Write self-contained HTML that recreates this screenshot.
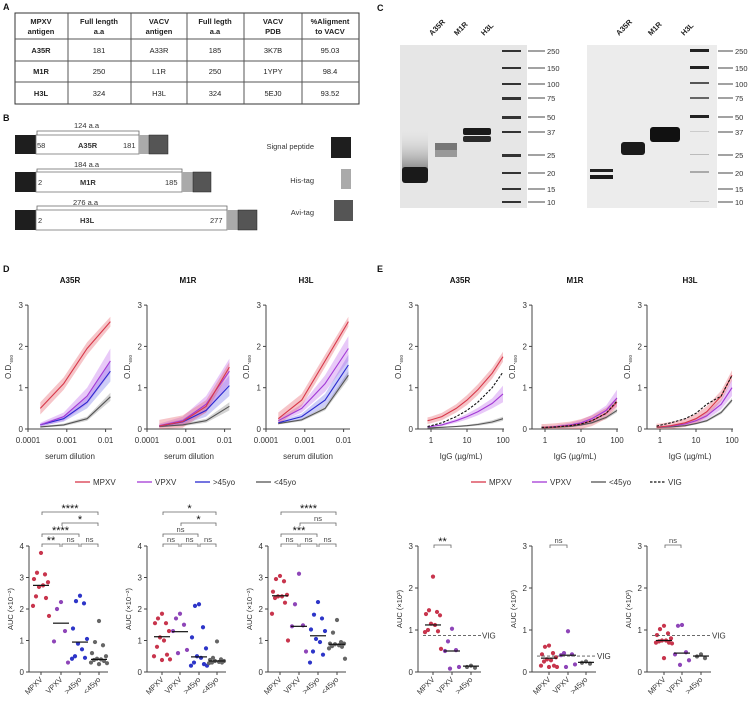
<!DOCTYPE html>
<html><head><meta charset="utf-8"><style>
body{margin:0;background:#fff;}
svg{display:block;font-family:"Liberation Sans",sans-serif;}
</style></head><body>
<svg id="fig" width="750" height="706" viewBox="0 0 750 706" xmlns="http://www.w3.org/2000/svg">
<rect width="750" height="706" fill="#fff"/>
<g font-weight="bold" font-size="9" fill="#111">
<text x="3" y="10">A</text>
<text x="3" y="121">B</text>
<text x="377" y="11">C</text>
<text x="3" y="272">D</text>
<text x="377" y="272">E</text>
</g>
<!-- Panel A table -->
<g font-size="7.5" fill="#222" text-anchor="middle">
<rect x="15" y="13" width="344" height="91" fill="#fff" stroke="#333" stroke-width="1"/>
<g stroke="#555" stroke-width="1">
<line x1="15" y1="39" x2="359" y2="39"/><line x1="15" y1="61" x2="359" y2="61"/><line x1="15" y1="82" x2="359" y2="82"/>
<line x1="68" y1="13" x2="68" y2="104"/><line x1="131" y1="13" x2="131" y2="104"/><line x1="187" y1="13" x2="187" y2="104"/><line x1="244" y1="13" x2="244" y2="104"/><line x1="302" y1="13" x2="302" y2="104"/>
</g>
<g font-weight="bold">
<text x="41" y="24">MPXV</text><text x="41" y="34">antigen</text>
<text x="99" y="24">Full length</text><text x="99" y="34">a.a</text>
<text x="159" y="24">VACV</text><text x="159" y="34">antigen</text>
<text x="215" y="24">Full legth</text><text x="215" y="34">a.a</text>
<text x="273" y="24">VACV</text><text x="273" y="34">PDB</text>
<text x="330" y="24">%Aligment</text><text x="330" y="34">to VACV</text>
<text x="41" y="53">A35R</text><text x="41" y="74">M1R</text><text x="41" y="96">H3L</text>
</g>
<text x="99" y="53">181</text><text x="159" y="53">A33R</text><text x="215" y="53">185</text><text x="273" y="53">3K7B</text><text x="330" y="53">95.03</text>
<text x="99" y="74">250</text><text x="159" y="74">L1R</text><text x="215" y="74">250</text><text x="273" y="74">1YPY</text><text x="330" y="74">98.4</text>
<text x="99" y="96">324</text><text x="159" y="96">H3L</text><text x="215" y="96">324</text><text x="273" y="96">5EJ0</text><text x="330" y="96">93.52</text>
</g>
<!-- Panel B constructs -->
<g font-size="7.5" fill="#333">
<g>
<rect x="15" y="135" width="21" height="19" fill="#1e1e1e"/><rect x="36" y="135" width="103" height="19" fill="#fff" stroke="#777" stroke-width="0.8"/>
<rect x="139" y="135" width="10" height="19" fill="#aaa"/><rect x="149" y="135" width="19" height="19" fill="#555" stroke="#222" stroke-width="0.5"/>
<path d="M37 135 V131 H139 V135" fill="none" stroke="#666" stroke-width="0.8"/>
<text x="74" y="128">124 a.a</text><text x="37" y="148">58</text><text x="78" y="148" font-weight="bold">A35R</text><text x="123" y="148">181</text>
</g>
<g>
<rect x="15" y="172" width="21" height="20" fill="#1e1e1e"/><rect x="36" y="172" width="146" height="20" fill="#fff" stroke="#777" stroke-width="0.8"/>
<rect x="182" y="172" width="11" height="20" fill="#aaa"/><rect x="193" y="172" width="18" height="20" fill="#555" stroke="#222" stroke-width="0.5"/>
<path d="M37 172 V169 H182 V172" fill="none" stroke="#666" stroke-width="0.8"/>
<text x="74" y="167">184 a.a</text><text x="38" y="185">2</text><text x="80" y="185" font-weight="bold">M1R</text><text x="165" y="185">185</text>
</g>
<g>
<rect x="15" y="210" width="21" height="20" fill="#1e1e1e"/><rect x="36" y="210" width="191" height="20" fill="#fff" stroke="#777" stroke-width="0.8"/>
<rect x="227" y="210" width="11" height="20" fill="#aaa"/><rect x="238" y="210" width="19" height="20" fill="#555" stroke="#222" stroke-width="0.5"/>
<path d="M37 210 V206 H227 V210" fill="none" stroke="#666" stroke-width="0.8"/>
<text x="73" y="205">276 a.a</text><text x="38" y="223">2</text><text x="80" y="223" font-weight="bold">H3L</text><text x="210" y="223">277</text>
</g>
<g text-anchor="end">
<text x="314" y="149">Signal peptide</text><rect x="331" y="137" width="20" height="21" fill="#1e1e1e"/>
<text x="314" y="183">His-tag</text><rect x="341" y="169" width="10" height="20" fill="#aaa"/>
<text x="314" y="215">Avi-tag</text><rect x="334" y="200" width="19" height="21" fill="#555"/>
</g>
</g>
<!-- Panel C gels -->
<defs>
<linearGradient id="smear" x1="0" y1="0" x2="0" y2="1"><stop offset="0" stop-color="#ddd" stop-opacity="0"/><stop offset="1" stop-color="#888"/></linearGradient>
</defs>
<g>
<rect x="400" y="45" width="127" height="163" fill="#e6e6e6"/>
<rect x="402" y="130" width="26" height="40" fill="url(#smear)"/>
<rect x="402" y="167" width="26" height="16" rx="3" fill="#1a1a1a"/>
<rect x="435" y="143" width="22" height="7" fill="#777"/><rect x="435" y="150" width="22" height="7" fill="#999"/>
<rect x="463" y="128" width="28" height="7" rx="2" fill="#1a1a1a"/><rect x="463" y="136" width="28" height="6" rx="2" fill="#2a2a2a"/>
<g fill="#333"><rect x="502" y="50" width="19" height="2"/><rect x="502" y="67" width="19" height="2"/><rect x="502" y="83" width="19" height="2"/><rect x="502" y="97" width="19" height="3"/><rect x="502" y="116" width="19" height="3"/><rect x="502" y="131" width="19" height="2"/><rect x="502" y="154" width="19" height="3"/><rect x="502" y="172" width="19" height="2"/><rect x="502" y="188" width="19" height="2"/><rect x="502" y="201" width="19" height="2"/></g>
</g>
<g>
<rect x="587" y="45" width="130" height="163" fill="#ececec"/>
<rect x="590" y="169" width="23" height="3" fill="#222"/><rect x="590" y="175" width="23" height="4" fill="#1a1a1a"/>
<rect x="621" y="142" width="24" height="13" rx="3" fill="#1a1a1a"/>
<rect x="650" y="127" width="30" height="15" rx="3" fill="#111"/>
<g fill="#222"><rect x="690" y="49" width="19" height="3"/><rect x="690" y="66" width="19" height="3"/><rect x="690" y="82" width="19" height="2" fill="#555"/><rect x="690" y="97" width="19" height="2" fill="#666"/><rect x="690" y="115" width="19" height="3"/><rect x="690" y="131" width="19" height="1" fill="#ccc"/><rect x="690" y="154" width="19" height="1" fill="#bbb"/><rect x="690" y="171" width="19" height="2" fill="#aaa"/><rect x="690" y="201" width="19" height="1" fill="#ccc"/></g>
</g>
<g font-size="7.5" font-weight="bold" fill="#222">
<text transform="translate(432,36) rotate(-45)">A35R</text><text transform="translate(457,36) rotate(-45)">M1R</text><text transform="translate(484,36) rotate(-45)">H3L</text>
<text transform="translate(619,36) rotate(-45)">A35R</text><text transform="translate(651,36) rotate(-45)">M1R</text><text transform="translate(684,36) rotate(-45)">H3L</text>
</g>
<g id="markers" font-size="7.5" fill="#333"></g>
<g id="charts"></g>
</svg>
<script>
// ---- Panel C marker data
const mwLabels = ["250","150","100","75","50","37","25","20","15","10"];
const mwY = [51,68,84,98,117,132,155,173,189,202];

// ---- Panel D line-chart data
const dDilution = [0.000208, 0.000833, 0.00333, 0.0133];
const dGroups = ["MPXV","VPXV",">45yo","<45yo"];
const dA35R_MPXV = [0.5, 1.1, 1.95, 2.6];
const dA35R_VPXV = [0.1, 0.3, 0.8, 1.65];
const dA35R_Old = [0.1, 0.25, 0.65, 1.4];
const dA35R_Young = [0.05, 0.1, 0.25, 0.78];
const dM1R_MPXV = [0.07, 0.18, 0.55, 1.5];
const dM1R_VPXV = [0.08, 0.2, 0.6, 1.4];
const dM1R_Old = [0.07, 0.17, 0.45, 1.05];
const dM1R_Young = [0.06, 0.1, 0.2, 0.55];
const dH3L_MPXV = [0.25, 0.7, 1.65, 2.6];
const dH3L_VPXV = [0.2, 0.5, 1.1, 1.95];
const dH3L_Old = [0.15, 0.3, 0.7, 1.55];
const dH3L_Young = [0.13, 0.22, 0.5, 1.3];
const dSem_MPXV = [0.15, 0.15, 0.15, 0.12];
const dSem_VPXV = [0.05, 0.1, 0.2, 0.3];
const dSem_Old = [0.03, 0.07, 0.15, 0.25];
const dSem_Young = [0.02, 0.03, 0.05, 0.1];

// ---- Panel E line-chart data
const eIgG = [0.8, 1, 2, 5, 10, 20, 50, 100];
const eA35R_MPXV = [0.2, 0.22, 0.3, 0.5, 0.7, 0.95, 1.35, 1.75];
const eA35R_VPXV = [0.05, 0.06, 0.1, 0.2, 0.3, 0.42, 0.62, 0.85];
const eA35R_Young = [0.03, 0.03, 0.04, 0.06, 0.08, 0.11, 0.17, 0.25];
const eA35R_VIG = [0.06, 0.08, 0.15, 0.3, 0.45, 0.65, 1.0, 1.38];
const eM1R_MPXV = [0.04, 0.04, 0.05, 0.08, 0.12, 0.2, 0.38, 0.65];
const eM1R_VPXV = [0.04, 0.04, 0.06, 0.1, 0.15, 0.25, 0.45, 0.75];
const eM1R_Young = [0.03, 0.03, 0.04, 0.06, 0.1, 0.15, 0.28, 0.45];
const eM1R_VIG = [0.04, 0.04, 0.05, 0.08, 0.12, 0.2, 0.38, 0.68];
const eH3L_MPXV = [0.05, 0.05, 0.08, 0.15, 0.25, 0.42, 0.8, 1.3];
const eH3L_VPXV = [0.05, 0.05, 0.07, 0.12, 0.2, 0.32, 0.6, 1.0];
const eH3L_Young = [0.04, 0.04, 0.05, 0.08, 0.13, 0.2, 0.4, 0.7];
const eH3L_VIG = [0.07, 0.09, 0.15, 0.25, 0.38, 0.6, 0.8, 1.3];
const eSem_MPXV = [0.08, 0.08, 0.09, 0.1, 0.12, 0.13, 0.13, 0.12];
const eSem_VPXV = [0.02, 0.02, 0.03, 0.05, 0.07, 0.09, 0.12, 0.2];
const eSem_Young = [0.01, 0.01, 0.01, 0.02, 0.02, 0.03, 0.04, 0.05];

// ---- Panel D AUC dot data (x10^2)
const aucA35R_MPXV = [3.78,3.15,3.1,2.95,2.85,2.7,2.75,2.4,2.35,2.1,1.78];
const aucA35R_VPXV = [2.22,2.0,1.3,0.97,0.3];
const aucA35R_Old = [2.42,2.25,2.18,1.38,1.05,0.9,0.72,0.5,0.45,0.42];
const aucA35R_Young = [1.62,0.95,0.85,0.6,0.5,0.42,0.4,0.38,0.35,0.3,0.28,0.25];
const medA35R = [2.75, 1.55, 0.95, 0.4];
const aucM1R_MPXV = [1.85,1.7,1.55,1.55,1.3,1.1,1.0,0.8,0.55,0.5,0.4,0.38];
const aucM1R_VPXV = [1.85,1.7,1.5,1.3,0.7,0.6];
const aucM1R_Old = [2.15,2.1,1.42,1.1,0.75,0.5,0.45,0.3,0.25,0.2,0.2];
const aucM1R_Young = [0.97,0.45,0.4,0.38,0.35,0.35,0.32,0.3,0.3,0.28];
const medM1R = [1.12, 1.28, 0.48, 0.35];
const aucH3L_MPXV = [3.05,2.95,2.88,2.55,2.45,2.4,2.4,2.35,2.2,1.85,1.0];
const aucH3L_VPXV = [3.12,2.15,1.48,1.45,0.65];
const aucH3L_Old = [2.22,1.82,1.7,1.35,1.3,1.05,0.95,0.65,0.55,0.3];
const aucH3L_Young = [1.65,1.25,0.95,0.9,0.9,0.88,0.85,0.82,0.8,0.75,0.42];
const medH3L = [2.42, 1.45, 1.15, 0.88];
const sigA35R = ["**","ns","ns","****","*","****"];
const sigM1R = ["ns","ns","ns","ns","*","*"];
const sigH3L = ["ns","ns","ns","***","ns","****"];

// ---- Panel E AUC dot data (x10^2)
const eGroups = ["MPXV","VPXV",">45yo"];
const eaA35R_MPXV = [2.27,1.47,1.43,1.38,1.35,1.15,1.12,1.0,0.97,0.95,0.55];
const eaA35R_VPXV = [1.03,0.73,0.52,0.5,0.12,0.08];
const eaA35R_Old = [0.15,0.12,0.1];
const emA35R = [1.12, 0.5, 0.14];
const eaM1R_MPXV = [0.63,0.6,0.45,0.42,0.35,0.3,0.28,0.25,0.15,0.15,0.12,0.12];
const eaM1R_VPXV = [0.97,0.45,0.42,0.4,0.18,0.12];
const eaM1R_Old = [0.25,0.22,0.2];
const emM1R = [0.33, 0.4, 0.23];
const eaH3L_MPXV = [1.1,1.02,0.92,0.88,0.8,0.75,0.75,0.73,0.7,0.7,0.68,0.33];
const eaH3L_VPXV = [1.12,1.1,0.47,0.42,0.28,0.17];
const eaH3L_Old = [0.42,0.37,0.33];
const emH3L = [0.75, 0.45, 0.38];
const vigAUC = [0.87, 0.38, 0.87];
const eSig = ["**","ns","ns"];

const NS = "http://www.w3.org/2000/svg";
const root = document.getElementById('charts');
function mk(parent, tag, attrs, name) {
  const el = document.createElementNS(NS, tag);
  for (const k in attrs) el.setAttribute(k, attrs[k]);
  
  
  parent.appendChild(el);
  return el;
}
function txt(parent, x, y, s, size, name, extra) {
  const t = mk(parent, 'text', Object.assign({x: x, y: y, 'font-size': size, fill: '#333'}, extra || {}), name);
  t.textContent = s;
  return t;
}

// markers
const mg = document.getElementById('markers');
mwY.forEach((y, i) => {
  mk(mg, 'line', {x1: 528, y1: y, x2: 545, y2: y, stroke: '#444', 'stroke-width': 1}, 'marker-tick');
  txt(mg, 547, y + 3, mwLabels[i], 7.5, 'marker-label');
  mk(mg, 'line', {x1: 718, y1: y, x2: 733, y2: y, stroke: '#444', 'stroke-width': 1}, 'marker-tick');
  txt(mg, 735, y + 3, mwLabels[i], 7.5, 'marker-label');
});

const COL = {MPXV: '#d8384a', VPXV: '#a33ad6', Old: '#2a2ad0', Young: '#555', VIG: '#111'};
const BAND = {MPXV: 'rgba(230,90,100,0.35)', VPXV: 'rgba(190,100,235,0.35)', Old: 'rgba(90,90,230,0.3)', Young: 'rgba(130,130,130,0.35)'};
const DOT = {MPXV: '#c8354d', VPXV: '#8e45b8', Old: '#2d35c8', Young: '#666'};

function odLabel(g, x, y) {
  const t = mk(g, 'text', {transform: 'translate(' + x + ',' + y + ') rotate(-90)', 'font-size': 8, fill: '#333', 'text-anchor': 'middle'}, 'y-axis-title');
  t.textContent = 'O.D.';
  const s = mk(t, 'tspan', {'font-size': 4.5, dy: 2}, 'y-axis-subscript');
  s.textContent = '650';
}

function yAxisLine(g, ax, y0, unit, max, x1) {
  mk(g, 'line', {x1: ax, y1: y0, x2: ax, y2: y0 - unit * max, stroke: '#444', 'stroke-width': 1}, 'y-axis');
  for (let v = 0; v <= max; v++) {
    const y = y0 - unit * v;
    mk(g, 'line', {x1: ax - 3, y1: y, x2: ax, y2: y, stroke: '#444', 'stroke-width': 1}, 'y-tick');
    txt(g, ax - 5, y + 3, String(v), 8, 'y-tick-label', {'text-anchor': 'end'});
  }
  mk(g, 'line', {x1: ax, y1: y0, x2: x1, y2: y0, stroke: '#444', 'stroke-width': 1}, 'x-axis');
}

function lineChart(title, titleX, ax, xs, xVals, series, xTicks, xTickLabels, xLabel, x1) {
  const g = mk(root, 'g', {}, 'line-chart-' + title.toLowerCase());
  const y0 = 429, unit = 41.3;
  const Y = v => y0 - v * unit;
  if (titleX) txt(g, titleX, 283, title, 8, 'chart-title', {'font-weight': 'bold', 'text-anchor': 'middle', fill: '#111'});
  yAxisLine(g, ax, y0, unit, 3, x1);
  odLabel(g, ax - 17, 367);
  xTicks.forEach((v, i) => {
    const x = xs(v);
    mk(g, 'line', {x1: x, y1: y0, x2: x, y2: y0 + 3, stroke: '#444', 'stroke-width': 1}, 'x-tick');
    txt(g, x, y0 + 14, xTickLabels[i], 8, 'x-tick-label', {'text-anchor': 'middle'});
  });
  txt(g, (ax + x1) / 2, 459, xLabel, 8, 'x-axis-title', {'text-anchor': 'middle'});
  series.forEach(s => {
    if (s.sem) {
      let up = '', dn = '';
      xVals.forEach((xv, i) => { up += (i ? 'L' : 'M') + xs(xv).toFixed(1) + ' ' + Y(s.v[i] + s.sem[i]).toFixed(1); });
      for (let i = xVals.length - 1; i >= 0; i--) dn += 'L' + xs(xVals[i]).toFixed(1) + ' ' + Y(Math.max(0, s.v[i] - s.sem[i])).toFixed(1);
      mk(g, 'path', {d: up + dn + 'Z', fill: BAND[s.k], stroke: 'none'}, 'band-' + s.k.toLowerCase());
    }
  });
  series.forEach(s => {
    let d = '';
    xVals.forEach((xv, i) => { d += (i ? 'L' : 'M') + xs(xv).toFixed(1) + ' ' + Y(s.v[i]).toFixed(1); });
    const a = {d: d, fill: 'none', stroke: COL[s.k], 'stroke-width': 1.1};
    if (s.k === 'VIG') a['stroke-dasharray'] = '2.5,1.5';
    mk(g, 'path', a, 'line-' + s.k.toLowerCase());
  });
}

// Panel D line charts
const dTicks = [0.0001, 0.001, 0.01];
const dTickL = ['0.0001', '0.001', '0.01'];
[[28, 'A35R', 70, [dA35R_MPXV, dA35R_VPXV, dA35R_Old, dA35R_Young]],
 [147, 'M1R', 188, [dM1R_MPXV, dM1R_VPXV, dM1R_Old, dM1R_Young]],
 [266, 'H3L', 306, [dH3L_MPXV, dH3L_VPXV, dH3L_Old, dH3L_Young]]].forEach(c => {
  const ax = c[0];
  const xs = v => ax + (Math.log10(v) + 4) * 38.8;
  lineChart(c[1], c[2], ax, xs, dDilution, [
    {k: 'Young', v: c[3][3], sem: dSem_Young}, {k: 'Old', v: c[3][2], sem: dSem_Old},
    {k: 'VPXV', v: c[3][1], sem: dSem_VPXV}, {k: 'MPXV', v: c[3][0], sem: dSem_MPXV}
  ], dTicks, dTickL, 'serum dilution', ax + 84);
});

// Panel E line charts
const eTicks = [1, 10, 100];
const eTickL = ['1', '10', '100'];
[[418, 'A35R', 460, [eA35R_MPXV, eA35R_VPXV, eA35R_Young, eA35R_VIG]],
 [532, 'M1R', 575, [eM1R_MPXV, eM1R_VPXV, eM1R_Young, eM1R_VIG]],
 [647, 'H3L', 690, [eH3L_MPXV, eH3L_VPXV, eH3L_Young, eH3L_VIG]]].forEach(c => {
  const ax = c[0];
  const xs = v => ax + 13 + Math.log10(v) * 36;
  lineChart(c[1], c[2], ax, xs, eIgG, [
    {k: 'Young', v: c[3][2], sem: eSem_Young}, {k: 'VPXV', v: c[3][1], sem: eSem_VPXV},
    {k: 'MPXV', v: c[3][0], sem: eSem_MPXV}, {k: 'VIG', v: c[3][3]}
  ], eTicks, eTickL, 'IgG (µg/mL)', ax + 86);
});

// Legends
function legend(items, y) {
  const g = mk(root, 'g', {}, 'legend');
  items.forEach(it => {
    const a = {x1: it[0], y1: y, x2: it[0] + 15, y2: y, stroke: COL[it[2]], 'stroke-width': 1.3};
    if (it[2] === 'VIG') a['stroke-dasharray'] = '2.5,1.5';
    mk(g, 'line', a, 'legend-swatch');
    txt(g, it[0] + 18, y + 3, it[1], 8, 'legend-label');
  });
}
legend([[75, 'MPXV', 'MPXV'], [137, 'VPXV', 'VPXV'], [195, '>45yo', 'Old'], [256, '<45yo', 'Young']], 482);
legend([[471, 'MPXV', 'MPXV'], [532, 'VPXV', 'VPXV'], [591, '<45yo', 'Young'], [650, 'VIG', 'VIG']], 482);

// Dot plots
const jit = [0, -4, 4, -7, 7, -2, 2, -5, 5, -8, 8, 0];
function dotPlot(name, ax, y0, unit, max, cats, keys, groups, data, meds, x1, ytitle) {
  const g = mk(root, 'g', {}, 'dot-plot-' + name);
  const Y = v => y0 - v * unit;
  yAxisLine(g, ax, y0, unit, max, x1);
  const t = mk(g, 'text', {transform: 'translate(' + (ax - 16) + ',' + (y0 - unit * max / 2) + ') rotate(-90)', 'font-size': 7.5, fill: '#333', 'text-anchor': 'middle'}, 'y-axis-title');
  t.textContent = ytitle;
  cats.forEach((cx, ci) => {
    mk(g, 'line', {x1: cx, y1: y0, x2: cx, y2: y0 + 3, stroke: '#444', 'stroke-width': 1}, 'x-tick');
    txt(g, cx + 2, y0 + 8, groups[ci], 7.5, 'x-tick-label', {'text-anchor': 'end', transform: 'rotate(-45 ' + (cx + 2) + ' ' + (y0 + 8) + ')'});
    data[ci].forEach((v, i) => {
      mk(g, 'circle', {cx: cx + jit[i % jit.length], cy: Y(v), r: 2.1, fill: DOT[keys[ci]]}, 'dot-' + keys[ci].toLowerCase());
    });
    mk(g, 'line', {x1: cx - 8, y1: Y(meds[ci]), x2: cx + 8, y2: Y(meds[ci]), stroke: '#111', 'stroke-width': 1.2}, 'median-line');
  });
  return g;
}
function bracket(g, xa, xb, y, label) {
  mk(g, 'path', {d: 'M' + (xa + 1) + ' ' + (y + 3) + 'V' + y + 'H' + (xb - 1) + 'V' + (y + 3), fill: 'none', stroke: '#666', 'stroke-width': 0.8}, 'significance-bracket');
  const star = label.indexOf('*') >= 0;
  txt(g, (xa + xb) / 2, y - (star ? 0 : 2), label, star ? 11 : 7.5, 'significance-label', {'text-anchor': 'middle', fill: star ? '#111' : '#444'});
}
const dKeys = ['MPXV', 'VPXV', 'Old', 'Young'];
[['a35r', 29, [41, 61, 80, 99], [aucA35R_MPXV, aucA35R_VPXV, aucA35R_Old, aucA35R_Young], medA35R, sigA35R],
 ['m1r', 147, [162, 180, 199, 217], [aucM1R_MPXV, aucM1R_VPXV, aucM1R_Old, aucM1R_Young], medM1R, sigM1R],
 ['h3l', 268, [280, 299, 318, 337], [aucH3L_MPXV, aucH3L_VPXV, aucH3L_Old, aucH3L_Young], medH3L, sigH3L]].forEach(c => {
  const cx = c[2];
  const g = dotPlot(c[0], c[1], 672, 31.5, 4, cx, dKeys, dGroups, c[3], c[4], cx[3] + 9, 'AUC (×10⁻²)');
  bracket(g, cx[0], cx[1], 544, c[5][0]);
  bracket(g, cx[1], cx[2], 544, c[5][1]);
  bracket(g, cx[2], cx[3], 544, c[5][2]);
  bracket(g, cx[0], cx[2], 534, c[5][3]);
  bracket(g, cx[1], cx[3], 523, c[5][4]);
  bracket(g, cx[0], cx[3], 512, c[5][5]);
});
const eKeys = ['MPXV', 'VPXV', 'Young'];
[['e-a35r', 418, [433, 452, 471], [eaA35R_MPXV, eaA35R_VPXV, eaA35R_Old], emA35R],
 ['e-m1r', 532, [549, 568, 586], [eaM1R_MPXV, eaM1R_VPXV, eaM1R_Old], emM1R],
 ['e-h3l', 647, [664, 682, 701], [eaH3L_MPXV, eaH3L_VPXV, eaH3L_Old], emH3L]].forEach((c, i) => {
  const cx = c[2];
  const g = dotPlot(c[0], c[1], 672, 42, 3, cx, eKeys, eGroups, c[3], c[4], cx[2] + 10, 'AUC (×10²)');
  const vy = 672 - vigAUC[i] * 42;
  mk(g, 'line', {x1: c[1] + 5, y1: vy, x2: cx[2] + 10, y2: vy, stroke: '#555', 'stroke-width': 0.9, 'stroke-dasharray': '3,2'}, 'vig-reference-line');
  txt(g, cx[2] + 11, vy + 3, 'VIG', 8, 'vig-label');
  bracket(g, cx[0], cx[1], 545, eSig[i]);
});
</script>
</body></html>
